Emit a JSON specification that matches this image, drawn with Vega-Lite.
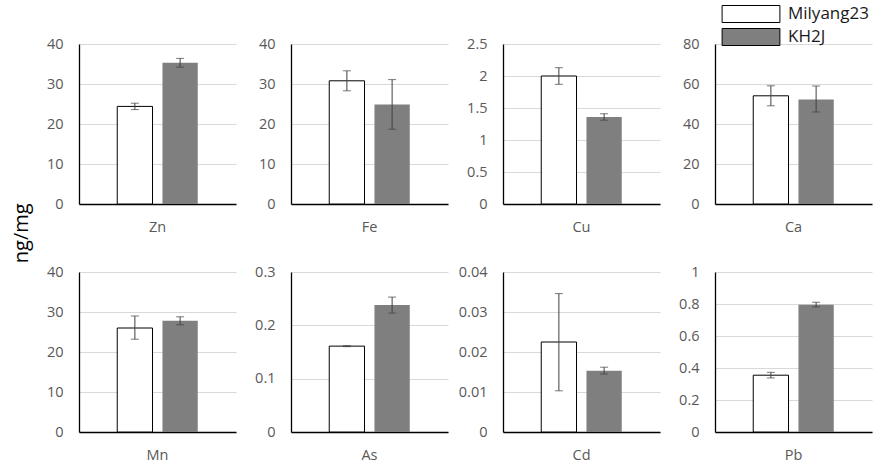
{
  "$schema": "https://vega.github.io/schema/vega-lite/v6.json",
  "padding": {"left": 12, "top": 5, "right": 5, "bottom": 5},
  "background": "#ffffff",
  "title": {"text": "ng/mg", "orient": "left", "anchor": "middle", "fontSize": 20, "font": "Open Sans", "fontWeight": "normal", "color": "#000000", "offset": 14},
  "datasets": {
    "metals": [
      {"Element": "Zn", "Genotype": "Milyang23", "value": 24.4, "lo": 23.6, "hi": 25.2},
      {"Element": "Zn", "Genotype": "KH2J", "value": 35.3, "lo": 34.2, "hi": 36.4},
      {"Element": "Fe", "Genotype": "Milyang23", "value": 30.8, "lo": 28.3, "hi": 33.3},
      {"Element": "Fe", "Genotype": "KH2J", "value": 24.9, "lo": 18.7, "hi": 31.1},
      {"Element": "Cu", "Genotype": "Milyang23", "value": 2.0, "lo": 1.87, "hi": 2.13},
      {"Element": "Cu", "Genotype": "KH2J", "value": 1.36, "lo": 1.31, "hi": 1.41},
      {"Element": "Ca", "Genotype": "Milyang23", "value": 54.1, "lo": 49.1, "hi": 59.1},
      {"Element": "Ca", "Genotype": "KH2J", "value": 52.3, "lo": 46.0, "hi": 59.0},
      {"Element": "Mn", "Genotype": "Milyang23", "value": 26.0, "lo": 23.2, "hi": 29.0},
      {"Element": "Mn", "Genotype": "KH2J", "value": 27.8, "lo": 26.8, "hi": 28.8},
      {"Element": "As", "Genotype": "Milyang23", "value": 0.161, "lo": 0.160, "hi": 0.162},
      {"Element": "As", "Genotype": "KH2J", "value": 0.238, "lo": 0.223, "hi": 0.253},
      {"Element": "Cd", "Genotype": "Milyang23", "value": 0.0225, "lo": 0.0103, "hi": 0.0346},
      {"Element": "Cd", "Genotype": "KH2J", "value": 0.0153, "lo": 0.0145, "hi": 0.0162},
      {"Element": "Pb", "Genotype": "Milyang23", "value": 0.355, "lo": 0.338, "hi": 0.373},
      {"Element": "Pb", "Genotype": "KH2J", "value": 0.796, "lo": 0.782, "hi": 0.811}
    ]
  },
  "data": {"name": "metals"},
  "columns": 4,
  "spacing": {"row": 68, "column": 55},
  "bounds": "flush",
  "resolve": {"scale": {"color": "shared"}},
  "concat": [
    {"transform": [{"filter": "datum.Element === 'Zn'"}], "width": 157, "height": 160,
     "encoding": {"x": {"field": "Element", "type": "nominal", "title": null, "scale": {"paddingOuter": 0.475, "paddingInner": 0}},
                  "xOffset": {"field": "Genotype", "type": "nominal", "sort": ["Milyang23", "KH2J"], "scale": {"paddingInner": 0.22, "paddingOuter": 0}}},
     "layer": [
       {"mark": {"type": "bar", "strokeWidth": 1},
        "encoding": {"y": {"field": "value", "type": "quantitative", "title": null, "scale": {"domain": [0, 40]}, "axis": {"values": [0, 10, 20, 30, 40]}},
                     "color": {"field": "Genotype", "type": "nominal", "sort": ["Milyang23", "KH2J"], "scale": {"domain": ["Milyang23", "KH2J"], "range": ["#ffffff", "#7f7f7f"]},
                               "legend": {"title": null, "orient": "none", "legendX": 663, "legendY": -39, "symbolType": "M-3.4,-1H3.4V1H-3.4Z", "symbolSize": 289, "symbolStrokeColor": "#000000", "symbolStrokeWidth": 1, "labelFont": "Open Sans", "labelFontSize": 17, "labelColor": "#1a1a1a", "labelOffset": 28, "rowPadding": 1,
                                          "encode": {"symbols": {"update": {"stroke": {"value": "#000000"}, "strokeWidth": {"value": 1}, "opacity": {"value": 1}}}}}},
                     "stroke": {"condition": {"test": "datum.Genotype === 'Milyang23'", "value": "#000000"}, "value": null}}},
       {"mark": {"type": "rule", "color": "#404040", "strokeWidth": 1}, "encoding": {"y": {"field": "lo", "type": "quantitative", "title": null, "scale": {"domain": [0, 40]}}, "y2": {"field": "hi"}}},
       {"mark": {"type": "tick", "color": "#404040", "size": 8, "thickness": 1, "orient": "horizontal"}, "encoding": {"y": {"field": "lo", "type": "quantitative", "title": null, "scale": {"domain": [0, 40]}}}},
       {"mark": {"type": "tick", "color": "#404040", "size": 8, "thickness": 1, "orient": "horizontal"}, "encoding": {"y": {"field": "hi", "type": "quantitative", "title": null, "scale": {"domain": [0, 40]}}}}
     ]},
    {"transform": [{"filter": "datum.Element === 'Fe'"}], "width": 157, "height": 160,
     "encoding": {"x": {"field": "Element", "type": "nominal", "title": null, "scale": {"paddingOuter": 0.475, "paddingInner": 0}},
                  "xOffset": {"field": "Genotype", "type": "nominal", "sort": ["Milyang23", "KH2J"], "scale": {"paddingInner": 0.22, "paddingOuter": 0}}},
     "layer": [
       {"mark": {"type": "bar", "strokeWidth": 1},
        "encoding": {"y": {"field": "value", "type": "quantitative", "title": null, "scale": {"domain": [0, 40]}, "axis": {"values": [0, 10, 20, 30, 40]}},
                     "color": {"field": "Genotype", "type": "nominal", "sort": ["Milyang23", "KH2J"], "scale": {"domain": ["Milyang23", "KH2J"], "range": ["#ffffff", "#7f7f7f"]}},
                     "stroke": {"condition": {"test": "datum.Genotype === 'Milyang23'", "value": "#000000"}, "value": null}}},
       {"mark": {"type": "rule", "color": "#404040", "strokeWidth": 1}, "encoding": {"y": {"field": "lo", "type": "quantitative", "title": null, "scale": {"domain": [0, 40]}}, "y2": {"field": "hi"}}},
       {"mark": {"type": "tick", "color": "#404040", "size": 8, "thickness": 1, "orient": "horizontal"}, "encoding": {"y": {"field": "lo", "type": "quantitative", "title": null, "scale": {"domain": [0, 40]}}}},
       {"mark": {"type": "tick", "color": "#404040", "size": 8, "thickness": 1, "orient": "horizontal"}, "encoding": {"y": {"field": "hi", "type": "quantitative", "title": null, "scale": {"domain": [0, 40]}}}}
     ]},
    {"transform": [{"filter": "datum.Element === 'Cu'"}], "width": 157, "height": 160,
     "encoding": {"x": {"field": "Element", "type": "nominal", "title": null, "scale": {"paddingOuter": 0.475, "paddingInner": 0}},
                  "xOffset": {"field": "Genotype", "type": "nominal", "sort": ["Milyang23", "KH2J"], "scale": {"paddingInner": 0.22, "paddingOuter": 0}}},
     "layer": [
       {"mark": {"type": "bar", "strokeWidth": 1},
        "encoding": {"y": {"field": "value", "type": "quantitative", "title": null, "scale": {"domain": [0, 2.5]}, "axis": {"values": [0, 0.5, 1, 1.5, 2, 2.5]}},
                     "color": {"field": "Genotype", "type": "nominal", "sort": ["Milyang23", "KH2J"], "scale": {"domain": ["Milyang23", "KH2J"], "range": ["#ffffff", "#7f7f7f"]}},
                     "stroke": {"condition": {"test": "datum.Genotype === 'Milyang23'", "value": "#000000"}, "value": null}}},
       {"mark": {"type": "rule", "color": "#404040", "strokeWidth": 1}, "encoding": {"y": {"field": "lo", "type": "quantitative", "title": null, "scale": {"domain": [0, 2.5]}}, "y2": {"field": "hi"}}},
       {"mark": {"type": "tick", "color": "#404040", "size": 8, "thickness": 1, "orient": "horizontal"}, "encoding": {"y": {"field": "lo", "type": "quantitative", "title": null, "scale": {"domain": [0, 2.5]}}}},
       {"mark": {"type": "tick", "color": "#404040", "size": 8, "thickness": 1, "orient": "horizontal"}, "encoding": {"y": {"field": "hi", "type": "quantitative", "title": null, "scale": {"domain": [0, 2.5]}}}}
     ]},
    {"transform": [{"filter": "datum.Element === 'Ca'"}], "width": 157, "height": 160,
     "encoding": {"x": {"field": "Element", "type": "nominal", "title": null, "scale": {"paddingOuter": 0.475, "paddingInner": 0}},
                  "xOffset": {"field": "Genotype", "type": "nominal", "sort": ["Milyang23", "KH2J"], "scale": {"paddingInner": 0.22, "paddingOuter": 0}}},
     "layer": [
       {"mark": {"type": "bar", "strokeWidth": 1},
        "encoding": {"y": {"field": "value", "type": "quantitative", "title": null, "scale": {"domain": [0, 80]}, "axis": {"values": [0, 20, 40, 60, 80]}},
                     "color": {"field": "Genotype", "type": "nominal", "sort": ["Milyang23", "KH2J"], "scale": {"domain": ["Milyang23", "KH2J"], "range": ["#ffffff", "#7f7f7f"]}},
                     "stroke": {"condition": {"test": "datum.Genotype === 'Milyang23'", "value": "#000000"}, "value": null}}},
       {"mark": {"type": "rule", "color": "#404040", "strokeWidth": 1}, "encoding": {"y": {"field": "lo", "type": "quantitative", "title": null, "scale": {"domain": [0, 80]}}, "y2": {"field": "hi"}}},
       {"mark": {"type": "tick", "color": "#404040", "size": 8, "thickness": 1, "orient": "horizontal"}, "encoding": {"y": {"field": "lo", "type": "quantitative", "title": null, "scale": {"domain": [0, 80]}}}},
       {"mark": {"type": "tick", "color": "#404040", "size": 8, "thickness": 1, "orient": "horizontal"}, "encoding": {"y": {"field": "hi", "type": "quantitative", "title": null, "scale": {"domain": [0, 80]}}}}
     ]},
    {"transform": [{"filter": "datum.Element === 'Mn'"}], "width": 157, "height": 160,
     "encoding": {"x": {"field": "Element", "type": "nominal", "title": null, "scale": {"paddingOuter": 0.475, "paddingInner": 0}},
                  "xOffset": {"field": "Genotype", "type": "nominal", "sort": ["Milyang23", "KH2J"], "scale": {"paddingInner": 0.22, "paddingOuter": 0}}},
     "layer": [
       {"mark": {"type": "bar", "strokeWidth": 1},
        "encoding": {"y": {"field": "value", "type": "quantitative", "title": null, "scale": {"domain": [0, 40]}, "axis": {"values": [0, 10, 20, 30, 40]}},
                     "color": {"field": "Genotype", "type": "nominal", "sort": ["Milyang23", "KH2J"], "scale": {"domain": ["Milyang23", "KH2J"], "range": ["#ffffff", "#7f7f7f"]}},
                     "stroke": {"condition": {"test": "datum.Genotype === 'Milyang23'", "value": "#000000"}, "value": null}}},
       {"mark": {"type": "rule", "color": "#404040", "strokeWidth": 1}, "encoding": {"y": {"field": "lo", "type": "quantitative", "title": null, "scale": {"domain": [0, 40]}}, "y2": {"field": "hi"}}},
       {"mark": {"type": "tick", "color": "#404040", "size": 8, "thickness": 1, "orient": "horizontal"}, "encoding": {"y": {"field": "lo", "type": "quantitative", "title": null, "scale": {"domain": [0, 40]}}}},
       {"mark": {"type": "tick", "color": "#404040", "size": 8, "thickness": 1, "orient": "horizontal"}, "encoding": {"y": {"field": "hi", "type": "quantitative", "title": null, "scale": {"domain": [0, 40]}}}}
     ]},
    {"transform": [{"filter": "datum.Element === 'As'"}], "width": 157, "height": 160,
     "encoding": {"x": {"field": "Element", "type": "nominal", "title": null, "scale": {"paddingOuter": 0.475, "paddingInner": 0}},
                  "xOffset": {"field": "Genotype", "type": "nominal", "sort": ["Milyang23", "KH2J"], "scale": {"paddingInner": 0.22, "paddingOuter": 0}}},
     "layer": [
       {"mark": {"type": "bar", "strokeWidth": 1},
        "encoding": {"y": {"field": "value", "type": "quantitative", "title": null, "scale": {"domain": [0, 0.3]}, "axis": {"values": [0, 0.1, 0.2, 0.3]}},
                     "color": {"field": "Genotype", "type": "nominal", "sort": ["Milyang23", "KH2J"], "scale": {"domain": ["Milyang23", "KH2J"], "range": ["#ffffff", "#7f7f7f"]}},
                     "stroke": {"condition": {"test": "datum.Genotype === 'Milyang23'", "value": "#000000"}, "value": null}}},
       {"mark": {"type": "rule", "color": "#404040", "strokeWidth": 1}, "encoding": {"y": {"field": "lo", "type": "quantitative", "title": null, "scale": {"domain": [0, 0.3]}}, "y2": {"field": "hi"}}},
       {"mark": {"type": "tick", "color": "#404040", "size": 8, "thickness": 1, "orient": "horizontal"}, "encoding": {"y": {"field": "lo", "type": "quantitative", "title": null, "scale": {"domain": [0, 0.3]}}}},
       {"mark": {"type": "tick", "color": "#404040", "size": 8, "thickness": 1, "orient": "horizontal"}, "encoding": {"y": {"field": "hi", "type": "quantitative", "title": null, "scale": {"domain": [0, 0.3]}}}}
     ]},
    {"transform": [{"filter": "datum.Element === 'Cd'"}], "width": 157, "height": 160,
     "encoding": {"x": {"field": "Element", "type": "nominal", "title": null, "scale": {"paddingOuter": 0.475, "paddingInner": 0}},
                  "xOffset": {"field": "Genotype", "type": "nominal", "sort": ["Milyang23", "KH2J"], "scale": {"paddingInner": 0.22, "paddingOuter": 0}}},
     "layer": [
       {"mark": {"type": "bar", "strokeWidth": 1},
        "encoding": {"y": {"field": "value", "type": "quantitative", "title": null, "scale": {"domain": [0, 0.04]}, "axis": {"values": [0, 0.01, 0.02, 0.03, 0.04]}},
                     "color": {"field": "Genotype", "type": "nominal", "sort": ["Milyang23", "KH2J"], "scale": {"domain": ["Milyang23", "KH2J"], "range": ["#ffffff", "#7f7f7f"]}},
                     "stroke": {"condition": {"test": "datum.Genotype === 'Milyang23'", "value": "#000000"}, "value": null}}},
       {"mark": {"type": "rule", "color": "#404040", "strokeWidth": 1}, "encoding": {"y": {"field": "lo", "type": "quantitative", "title": null, "scale": {"domain": [0, 0.04]}}, "y2": {"field": "hi"}}},
       {"mark": {"type": "tick", "color": "#404040", "size": 8, "thickness": 1, "orient": "horizontal"}, "encoding": {"y": {"field": "lo", "type": "quantitative", "title": null, "scale": {"domain": [0, 0.04]}}}},
       {"mark": {"type": "tick", "color": "#404040", "size": 8, "thickness": 1, "orient": "horizontal"}, "encoding": {"y": {"field": "hi", "type": "quantitative", "title": null, "scale": {"domain": [0, 0.04]}}}}
     ]},
    {"transform": [{"filter": "datum.Element === 'Pb'"}], "width": 157, "height": 160,
     "encoding": {"x": {"field": "Element", "type": "nominal", "title": null, "scale": {"paddingOuter": 0.475, "paddingInner": 0}},
                  "xOffset": {"field": "Genotype", "type": "nominal", "sort": ["Milyang23", "KH2J"], "scale": {"paddingInner": 0.22, "paddingOuter": 0}}},
     "layer": [
       {"mark": {"type": "bar", "strokeWidth": 1},
        "encoding": {"y": {"field": "value", "type": "quantitative", "title": null, "scale": {"domain": [0, 1]}, "axis": {"values": [0, 0.2, 0.4, 0.6, 0.8, 1]}},
                     "color": {"field": "Genotype", "type": "nominal", "sort": ["Milyang23", "KH2J"], "scale": {"domain": ["Milyang23", "KH2J"], "range": ["#ffffff", "#7f7f7f"]}},
                     "stroke": {"condition": {"test": "datum.Genotype === 'Milyang23'", "value": "#000000"}, "value": null}}},
       {"mark": {"type": "rule", "color": "#404040", "strokeWidth": 1}, "encoding": {"y": {"field": "lo", "type": "quantitative", "title": null, "scale": {"domain": [0, 1]}}, "y2": {"field": "hi"}}},
       {"mark": {"type": "tick", "color": "#404040", "size": 8, "thickness": 1, "orient": "horizontal"}, "encoding": {"y": {"field": "lo", "type": "quantitative", "title": null, "scale": {"domain": [0, 1]}}}},
       {"mark": {"type": "tick", "color": "#404040", "size": 8, "thickness": 1, "orient": "horizontal"}, "encoding": {"y": {"field": "hi", "type": "quantitative", "title": null, "scale": {"domain": [0, 1]}}}}
     ]}
  ],
  "config": {
    "view": {"stroke": null},
    "font": "Open Sans",
    "axis": {"labelFont": "Open Sans", "labelFontSize": 14.5, "labelColor": "#595959", "ticks": false, "gridColor": "#d9d9d9", "gridWidth": 1, "domain": true, "domainColor": "#000000", "domainWidth": 1.3, "domainOpacity": 1},
    "axisY": {"labelPadding": 16, "grid": true, "tickCount": 20, "format": "~f", "labelOverlap": false},
    "axisX": {"labelAngle": 0, "labelPadding": 16, "grid": false}
  }
}
